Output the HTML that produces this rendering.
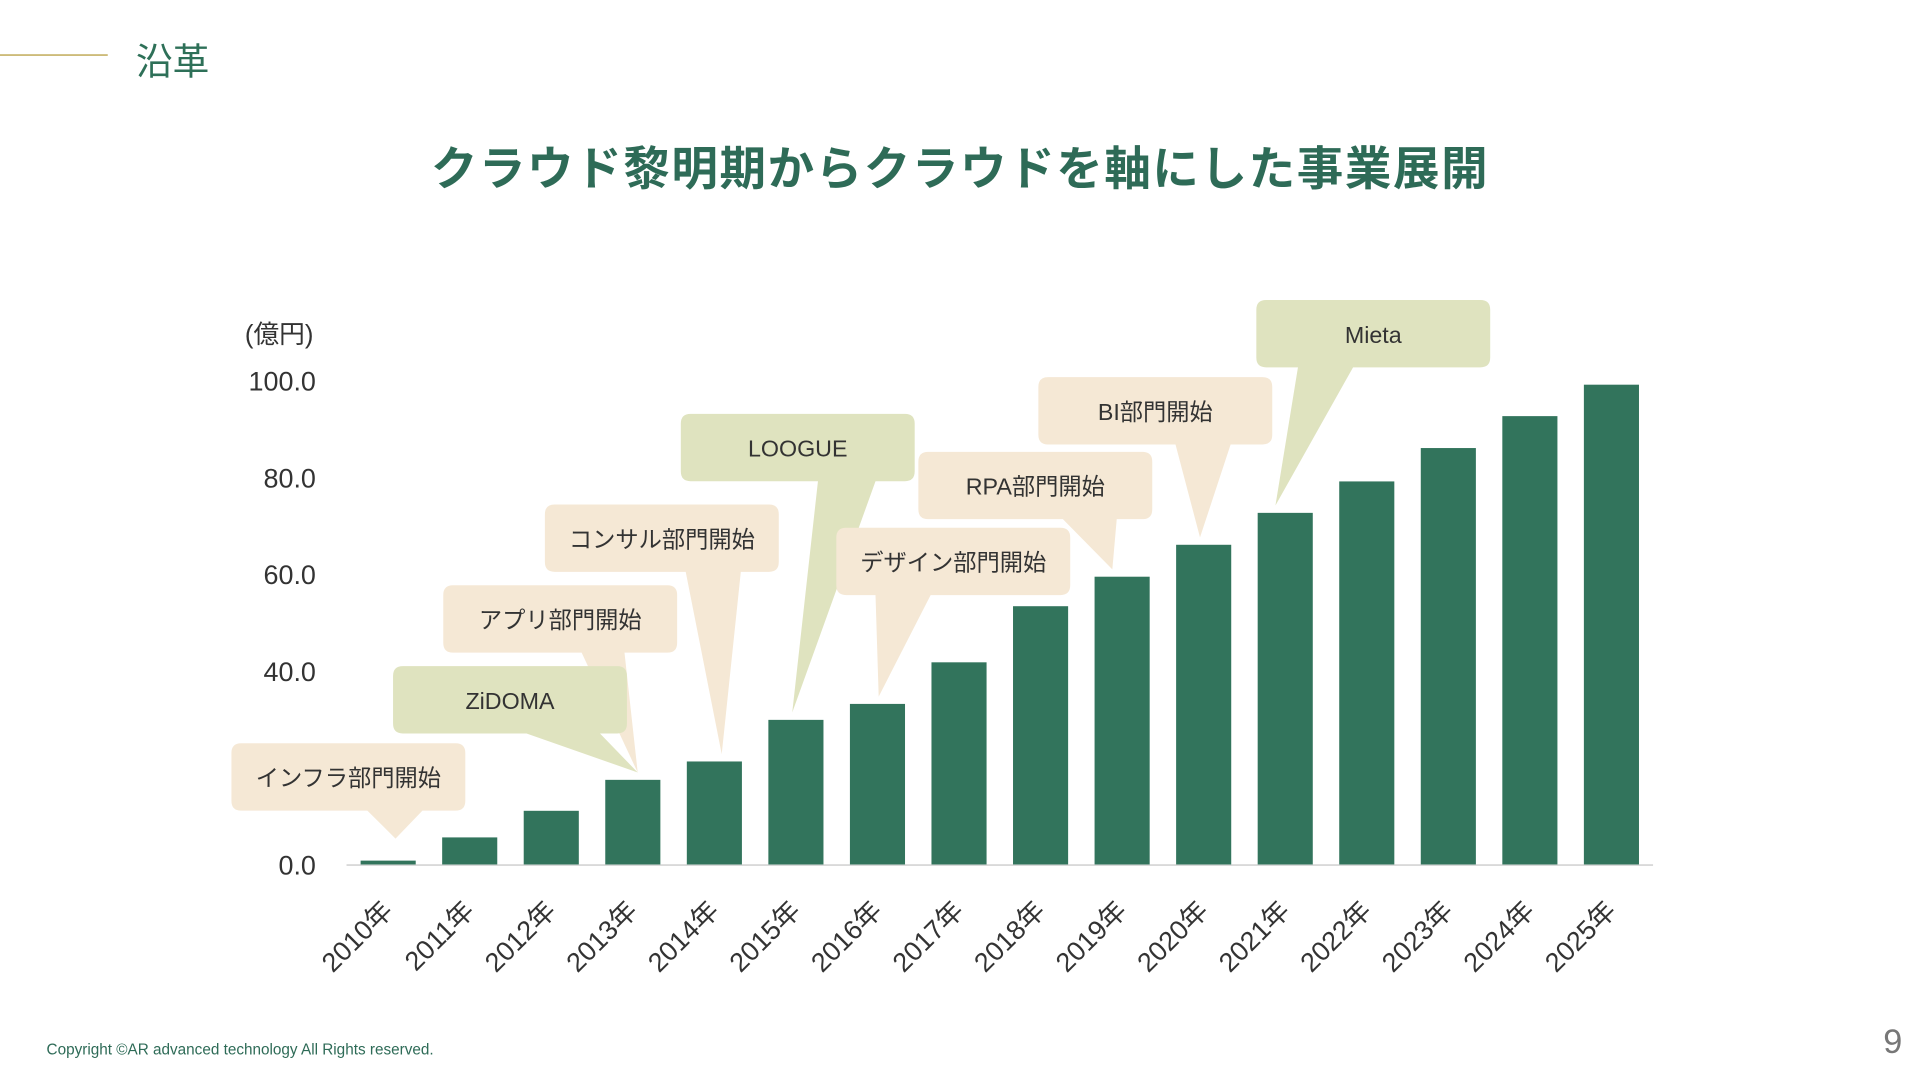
<!DOCTYPE html>
<html><head><meta charset="utf-8">
<style>
html,body{margin:0;padding:0;background:#fff;width:1920px;height:1080px;overflow:hidden}
svg{display:block;font-family:"Liberation Sans","Noto Sans CJK JP",sans-serif}
</style></head>
<body>
<svg id="chart" width="1920" height="1080" viewBox="0 0 1568 882">
<line x1="0" y1="45" x2="88" y2="45" stroke="#cdbb7a" stroke-width="1.5"/>
<text x="111" y="61" font-size="30" fill="#2e7058">沿革</text>
<text x="784" y="151" font-size="38" font-weight="bold" fill="#2e6b57" text-anchor="middle" letter-spacing="1.3">クラウド黎明期からクラウドを軸にした事業展開</text>
<text x="200" y="280" font-size="21" fill="#333">(億円)</text>
<g id="yticks"></g>
<line x1="283" y1="706.5" x2="1350" y2="706.5" stroke="#d9d9d9" stroke-width="1.5"/>
<g id="bars"></g>
<g id="xlabels"></g>
<g id="callouts"></g>
<text x="38" y="861" font-size="12.5" fill="#2e6b57">Copyright ©AR advanced technology All Rights reserved.</text>
<text x="1538" y="860" font-size="28" fill="#777">9</text>
</svg>
<script>
const categories=["2010年","2011年","2012年","2013年","2014年","2015年","2016年","2017年","2018年","2019年","2020年","2021年","2022年","2023年","2024年","2025年"];
const values=[0.8,5.6,11.1,17.5,21.3,29.9,33.2,41.8,53.4,59.5,66.1,72.7,79.2,86.1,92.7,99.2];
const tickValues=[0,40,60,80,100];
const tickLabels=["0.0","40.0","60.0","80.0","100.0"];
const calloutLabels=["インフラ部門開始","アプリ部門開始","ZiDOMA","コンサル部門開始","LOOGUE","デザイン部門開始","RPA部門開始","BI部門開始","Mieta"];
const calloutYears=[0,3,3,4,5,6,9,10,11];
const NS="http://www.w3.org/2000/svg";
const y=v=>706-v*3.95;
const x=i=>317+i*66.6;
function mk(t,a,p){const e=document.createElementNS(NS,t);for(const k in a)e.setAttribute(k,a[k]);p.appendChild(e);return e;}
const yt=document.getElementById('yticks');
tickValues.forEach((v,i)=>{const t=mk('text',{x:258,y:y(v)+8,'font-size':22,fill:'#333','text-anchor':'end'},yt);t.textContent=tickLabels[i];

});
const bg=document.getElementById('bars'),xl=document.getElementById('xlabels');
values.forEach((v,i)=>{const r=mk('rect',{x:x(i)-22.5,y:y(v),width:45,height:706-y(v),fill:'#32745c'},bg);


const t=mk('text',{x:0,y:0,'font-size':22,fill:'#333','text-anchor':'end',transform:`translate(${x(i)+5},${745}) rotate(-45)`},xl);t.textContent=categories[i];

});
const boxes=[[189,607,'#f5e8d5',300,345],[362,478,'#f5e8d5',475,510],[321,544,'#dfe3bf',430,490],[445,412,'#f5e8d5',560,605],[556,338,'#dfe3bf',668,715],[683,431,'#f5e8d5',715,760],[750,369,'#f5e8d5',868,912],[848,308,'#f5e8d5',960,1005],[1026,245,'#dfe3bf',1060,1105]];
const cg=document.getElementById('callouts');
boxes.forEach((b,k)=>{const g=mk('g',{},cg);


const i=calloutYears[k];const tx=x(i)+(k==1||k==2?4:(k==5?1:(k==4?-3:(k==6||k==8?-8:(k==7?-3:6))))),ty=y(values[i])-(k==0?18:6);
const w=191,h=55,bot=b[1]+h;
mk('path',{d:`M${b[0]+8},${b[1]} H${b[0]+w-8} Q${b[0]+w},${b[1]} ${b[0]+w},${b[1]+8} V${bot-8} Q${b[0]+w},${bot} ${b[0]+w-8},${bot} H${b[4]} L${tx},${ty} L${b[3]},${bot} H${b[0]+8} Q${b[0]},${bot} ${b[0]},${bot-8} V${b[1]+8} Q${b[0]},${b[1]} ${b[0]+8},${b[1]} Z`,fill:b[2]},g);
const t=mk('text',{x:b[0]+w/2,y:b[1]+35,'font-size':19,fill:'#333','text-anchor':'middle'},g);t.textContent=calloutLabels[k];});
</script>
</body></html>
